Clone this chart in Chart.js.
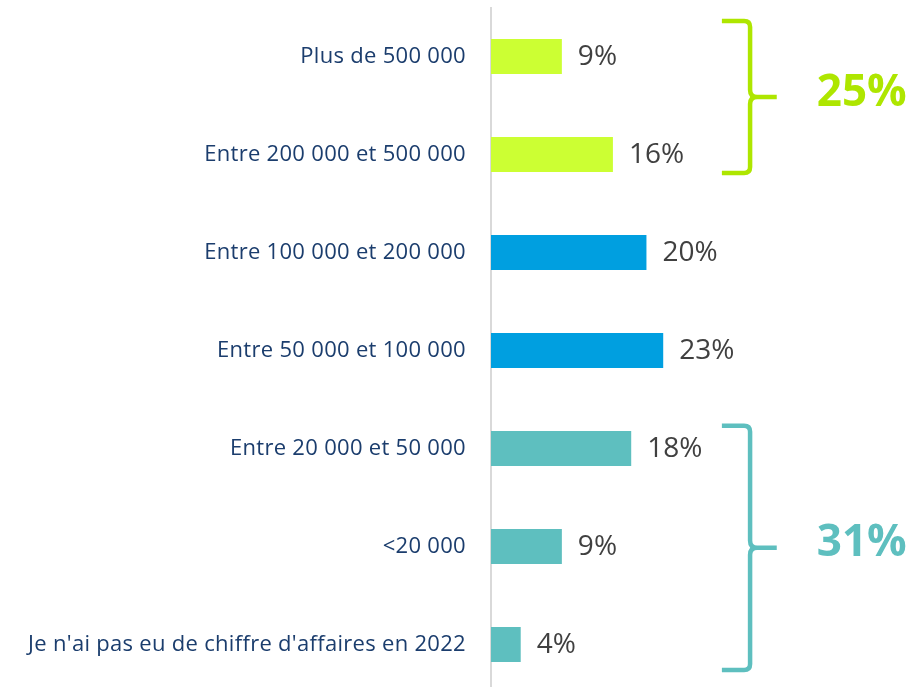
<!DOCTYPE html>
<html>
<head>
<meta charset="utf-8">
<script src="https://cdn.jsdelivr.net/npm/chart.js@4.4.0/dist/chart.umd.min.js"></script>
<style>
  html, body { margin: 0; padding: 0; background: #ffffff; overflow: hidden; }
  #wrap { width: 917px; height: 701px; position: relative; }
</style>
</head>
<body>
<div id="wrap"><canvas id="c"></canvas></div>
<script>
// ---- data ----
const categories = [
  'Plus de 500 000',
  'Entre 200 000 et 500 000',
  'Entre 100 000 et 200 000',
  'Entre 50 000 et 100 000',
  'Entre 20 000 et 50 000',
  '<20 000',
  "Je n'ai pas eu de chiffre d'affaires en 2022"
];
const shares = [9.3, 16.0, 20.4, 22.6, 18.4, 9.3, 3.9];
const shareLabels = ['9%', '16%', '20%', '23%', '18%', '9%', '4%'];
const groupNames = ['top', 'bottom'];
const groupTotals = ['25%', '31%'];

const barColors = ['#ccff33', '#ccff33', '#009fe0', '#009fe0', '#5ebfbf', '#5ebfbf', '#5ebfbf'];
const braceColors = ['#aee600', '#5ebfbf'];
const braceSpan = [[-0.362, 1.189], [3.767, 6.26]];

const letterSpacingPlugin = {
  id: 'letterSpacing',
  beforeDraw(chart) { chart.ctx.letterSpacing = '0.3px'; },
  afterDraw(chart) { chart.ctx.letterSpacing = '0px'; }
};

const valueLabelPlugin = {
  id: 'valueLabels',
  afterDatasetsDraw(chart) {
    const ctx = chart.ctx;
    const meta = chart.getDatasetMeta(0);
    ctx.save();
    ctx.letterSpacing = '0px';
    ctx.font = '28px "Open Sans", sans-serif';
    ctx.fillStyle = '#404040';
    ctx.textAlign = 'left';
    ctx.textBaseline = 'middle';
    meta.data.forEach((bar, i) => {
      ctx.fillText(shareLabels[i], bar.x + 16, bar.y + 1);
    });
    ctx.restore();
  }
};

const bracePlugin = {
  id: 'braces',
  afterDraw(chart) {
    const ctx = chart.ctx;
    const xs = chart.scales.x, ys = chart.scales.y;
    ctx.save();
    ctx.letterSpacing = '0px';
    groupNames.forEach((g, k) => {
      const top = ys.getPixelForValue(braceSpan[k][0]);
      const bot = ys.getPixelForValue(braceSpan[k][1]);
      const mid = (top + bot) / 2;
      const xEnd = xs.getPixelForValue(30.3);
      const xV = xs.getPixelForValue(34.0);
      const xTip = xs.getPixelForValue(37.5);
      ctx.strokeStyle = braceColors[k];
      ctx.lineWidth = 4.5;
      ctx.lineCap = 'butt';
      ctx.lineJoin = 'round';
      ctx.beginPath();
      ctx.moveTo(xEnd, top);
      ctx.lineTo(xV - 6, top);
      ctx.quadraticCurveTo(xV, top, xV, top + 6);
      ctx.lineTo(xV, mid - 7);
      ctx.quadraticCurveTo(xV, mid, xV + 7, mid);
      ctx.lineTo(xTip, mid);
      ctx.moveTo(xV + 7, mid);
      ctx.quadraticCurveTo(xV, mid, xV, mid + 7);
      ctx.lineTo(xV, bot - 6);
      ctx.quadraticCurveTo(xV, bot, xV - 6, bot);
      ctx.lineTo(xEnd, bot);
      ctx.stroke();
      ctx.font = 'bold 44px "Open Sans", sans-serif';
      ctx.fillStyle = braceColors[k];
      ctx.textAlign = 'left';
      ctx.textBaseline = 'middle';
      ctx.fillText(groupTotals[k], xTip + 40, mid - 4);
    });
    ctx.restore();
  }
};

new Chart(document.getElementById('c'), {
  type: 'bar',
  data: {
    labels: categories,
    datasets: [{
      data: shares,
      backgroundColor: barColors,
      borderWidth: 0,
      barPercentage: 0.357,
      categoryPercentage: 1.0
    }]
  },
  options: {
    indexAxis: 'y',
    responsive: true,
    maintainAspectRatio: false,
    animation: false,
    layout: { padding: { top: 7.5, bottom: 7.5, right: 121.2, left: 0 } },
    plugins: { legend: { display: false }, tooltip: { enabled: false } },
    scales: {
      x: {
        min: 0, max: 40,
        display: false,
        grid: { display: false }
      },
      y: {
        afterFit(scale) { scale.width = 491; scale.paddingTop = 0; scale.paddingBottom = 0; },
        grid: { display: false, drawTicks: false, tickLength: 0 },
        border: { display: true, color: '#d9d9d9', width: 2 },
        ticks: {
          color: '#1b3d6d',
          padding: 25,
          font: { family: '"Open Sans", sans-serif', size: 22 }
        }
      }
    }
  },
  plugins: [letterSpacingPlugin, valueLabelPlugin, bracePlugin]
});
</script>
</body>
</html>
